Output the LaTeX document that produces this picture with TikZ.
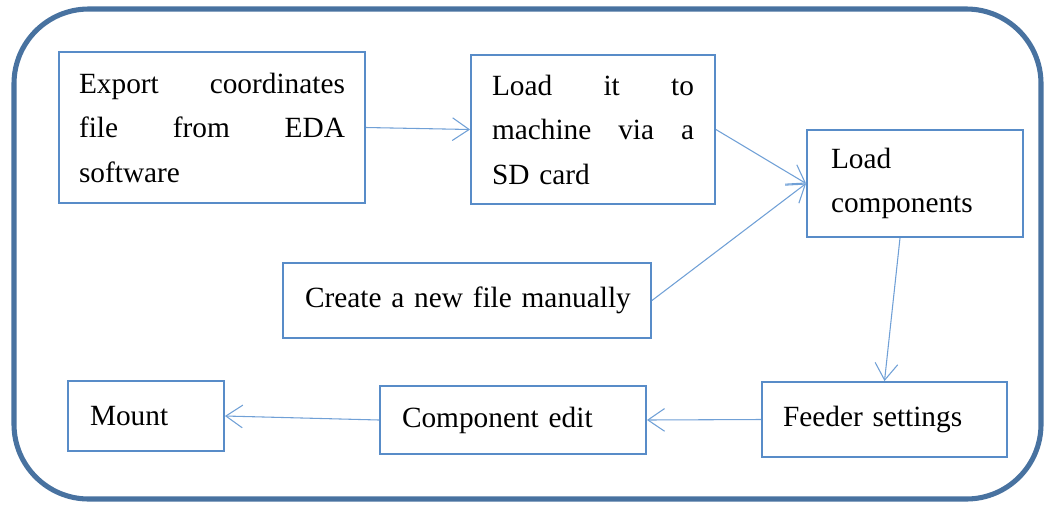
\documentclass[tikz,border=0pt]{standalone}
\usepackage{fontspec}
\setmainfont{Liberation Serif}
\usetikzlibrary{arrows.meta}
\definecolor{framecol}{RGB}{72,114,160}
\definecolor{boxcol}{RGB}{88,140,200}
\definecolor{arrowcol}{RGB}{112,160,214}
\begin{document}
\begin{tikzpicture}[x=0.75pt, y=-0.75pt,
		stepbox/.style={draw=boxcol, line width=1.4pt, align=left, inner ysep=0pt, inner xsep=16.5pt, font=\fontsize{22}{33.4}\selectfont},
		flow/.style={draw=arrowcol, line width=0.8pt, -{Straight Barb[length=12.5pt, width=17pt, line width=0.8pt]}}]
		
		\useasboundingbox (0,0) rectangle (1045,511);
		\draw[framecol, line width=3.8pt, rounded corners=56pt] (14,9) rectangle (1041,499);
		
		\node[stepbox, inner xsep=15pt, text width=199.5pt, minimum height=113.25pt] (export) at (212,127.5) {Export\hfill coordinates\\file\hfill from\hfill EDA\\software};
		\node[stepbox, inner xsep=15.75pt, text width=151.5pt, minimum height=111.75pt] (sdcard) at (593,129.5) {Load\hfill it\hfill to\\machine\hfill via\hfill a\\SD card};
		\node[stepbox, inner xsep=18pt, text width=126pt, minimum height=80.25pt] (loadcomp) at (915,183.5) {Load\\components};
		\node[stepbox, text width=243pt, minimum height=56.25pt] (manual) at (467,300.5) {\mbox{Create a new file manually}};
		\node[stepbox, text width=84pt, minimum height=52.5pt] (mount) at (146,416) {Mount};
		\node[stepbox, text width=166.5pt, minimum height=51pt] (compedit) at (513,420) {Component edit};
		\node[stepbox, inner xsep=15.75pt, text width=152.25pt, minimum height=56.25pt] (feeder) at (884.5,419.5) {Feeder settings};
		
		\draw[flow] (export.east) -- (sdcard.west);
		\draw[flow] (sdcard.east) -- (loadcomp.west);
		\draw[flow] (manual.east) -- (loadcomp.west);
		\draw[flow] ([xshift=-11.25pt]loadcomp.south) -- (feeder.north);
		\draw[flow] (feeder.west) -- (compedit.east);
		\draw[flow] (compedit.west) -- (mount.east);
		
\end{tikzpicture}
\end{document}
